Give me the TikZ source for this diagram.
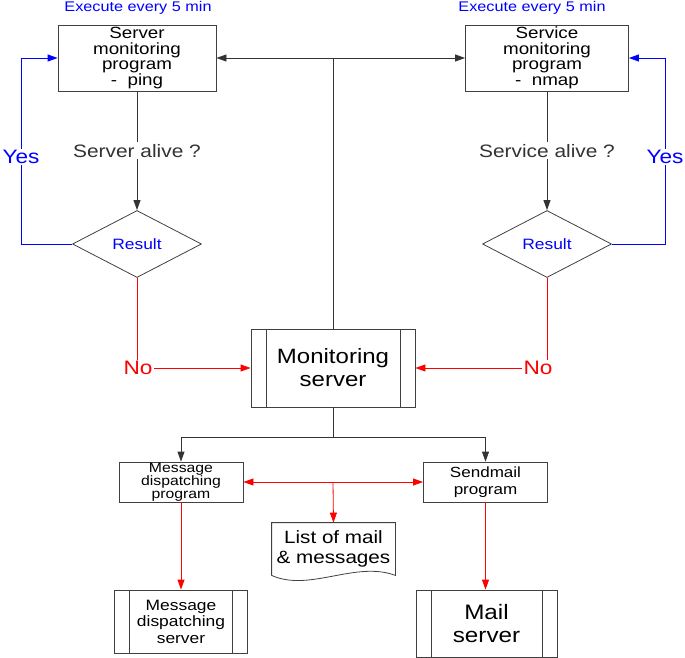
\documentclass[tikz,border=0pt]{standalone}
\usepackage{fontspec}
\setmainfont{Liberation Sans}[FakeStretch=1.16]
\usepackage{tikz}
\usetikzlibrary{arrows.meta, positioning, shapes.geometric, calc}

\newcommand{\fsz}[2]{\fontsize{#1}{#2}\selectfont}

\begin{document}
\begin{tikzpicture}[>={Triangle[length=10pt, width=7pt]}, x=1pt, y=-1pt, line width=0.8pt]

\useasboundingbox (0,0) rectangle (685,658);

% --- Style Definitions ---
% Program boxes (plain rectangles)
\tikzstyle{prog_box}=[rectangle, draw=black!75, align=center, inner sep=0pt]
% Server boxes (rectangle with the two inner side bars)
\tikzstyle{proc_box}=[prog_box, path picture={
  \draw[black!75] ([xshift=15pt]path picture bounding box.north west) -- ([xshift=15pt]path picture bounding box.south west);
  \draw[black!75] ([xshift=-15pt]path picture bounding box.north east) -- ([xshift=-15pt]path picture bounding box.south east);}]
% Decision nodes
\tikzstyle{result_node}=[diamond, draw=black!75, aspect=1.93, minimum width=129pt, minimum height=67pt, inner sep=0pt, text=blue, font=\fsz{15}{18}]
% Texts
\tikzstyle{note_text}=[text=blue, inner sep=0pt, font=\fsz{14}{17}]
\tikzstyle{ask_text}=[fill=white, inner sep=2pt, font=\fsz{18}{21}]
\tikzstyle{yes_text}=[fill=white, text=blue, inner sep=1pt, font=\fsz{19.5}{22}]
\tikzstyle{no_text}=[text=red, inner sep=1pt, font=\fsz{19.5}{22}]

% Arrow Styles
\tikzstyle{flow_arrow}=[->, black!80]
\tikzstyle{flow_line}=[black!80]
\tikzstyle{yes_arrow}=[->, blue]
\tikzstyle{yes_line}=[blue]
\tikzstyle{no_arrow}=[->, red]
\tikzstyle{no_line}=[red]

% --- Define Nodes ---

% Polling programs
\node[note_text, anchor=base] (exec_srv) at (138,11.5) {Execute every 5 min};
\node[note_text, anchor=base] (exec_svc) at (532,11.5) {Execute every 5 min};
\node[prog_box, minimum width=158pt, minimum height=66pt, font=\fsz{16.2}{15.5}] (srvprog) at (137,58) {Server\\monitoring\\program\\-\ \ ping};
\node[prog_box, minimum width=163pt, minimum height=66pt, font=\fsz{16.2}{15.5}] (svcprog) at (547,58) {Service\\monitoring\\program\\-\ \ nmap};

% Decisions
\node[result_node] (srvres) at (137,244) {Result};
\node[result_node] (svcres) at (547,244) {Result};

% Yes / No labels
\node[yes_text] (yesL) at (21,157) {Yes};
\node[yes_text] (yesR) at (665,157) {Yes};
\node[no_text] (noL) at (138,368) {No};
\node[no_text] (noR) at (538,368) {No};

% Central server
\node[proc_box, minimum width=164pt, minimum height=78pt, font=\fsz{20.7}{23}] (monsrv) at (333,368) {Monitoring\\server};

% Dispatching side
\node[prog_box, minimum width=124pt, minimum height=40pt, font=\fsz{13.6}{12.6}] (msgprog) at (181,482) {Message\\dispatching\\program};
\node[prog_box, minimum width=124pt, minimum height=40pt, font=\fsz{14.7}{17}] (sendprog) at (485.5,482) {Sendmail\\program};
\node[inner sep=0pt, minimum width=123pt, minimum height=52pt, align=center, font=\fsz{17.8}{20}] (maillist) at (333.5,549) {List of mail\\\& messages};
\node[proc_box, minimum width=133pt, minimum height=63pt, font=\fsz{15}{16.5}] (msgsrv) at (181,621.5) {Message\\dispatching\\server};
\node[proc_box, minimum width=141pt, minimum height=67pt, font=\fsz{20.9}{23}] (mailsrv) at (486.5,623.5) {Mail\\server};

\coordinate (topmid) at (333,58);
\coordinate (split) at (333,437);
\coordinate (listtap) at (333,482);

% --- Draw Connections ---

% 1. Monitoring server starts both programs
\draw[flow_arrow, <->] (srvprog.east) -- (svcprog.west);
\draw[flow_line] (topmid) -- (monsrv.north);

% 2. Programs to their results
\draw[flow_arrow] (srvprog.south) -- node[ask_text] {Server alive ?} (srvres.north);
\draw[flow_arrow] (svcprog.south) -- node[ask_text] {Service alive ?} (svcres.north);

% 3. Yes loops back (blue)
\draw[yes_line] (srvres.west) -| (yesL.south);
\draw[yes_arrow] (yesL.north) |- (srvprog.west);
\draw[yes_line] (svcres.east) -| (yesR.south);
\draw[yes_arrow] (yesR.north) |- (svcprog.east);

% 4. No goes to the monitoring server (red)
\draw[no_line] (srvres.south) -- (srvres.south |- noL.north);
\draw[no_arrow] (noL.east) -- (monsrv.west);
\draw[no_line] (svcres.south) -- (svcres.south |- noR.north);
\draw[no_arrow] (noR.west) -- (monsrv.east);

% 5. Monitoring server to the two senders
\draw[flow_line] (monsrv.south) -- (split);
\draw[flow_arrow] (split) -| (msgprog.north);
\draw[flow_arrow] (split) -| (sendprog.north);

% 6. Senders and the list (red)
\draw[no_arrow, <->] (msgprog.east) -- (sendprog.west);
\draw[no_arrow] (listtap) -- (maillist.north);
\draw[no_arrow] (msgprog.south) -- (msgprog.south |- msgsrv.north);
\draw[no_arrow] (sendprog.south) -- (sendprog.south |- mailsrv.north);

% 7. Document outline of the list
\draw[black!75] (maillist.south west) -- (maillist.north west) -- (maillist.north east) -- (maillist.south east)
  .. controls +(-40,-15) and +(38,17) .. (maillist.south west);

\end{tikzpicture}
\end{document}
